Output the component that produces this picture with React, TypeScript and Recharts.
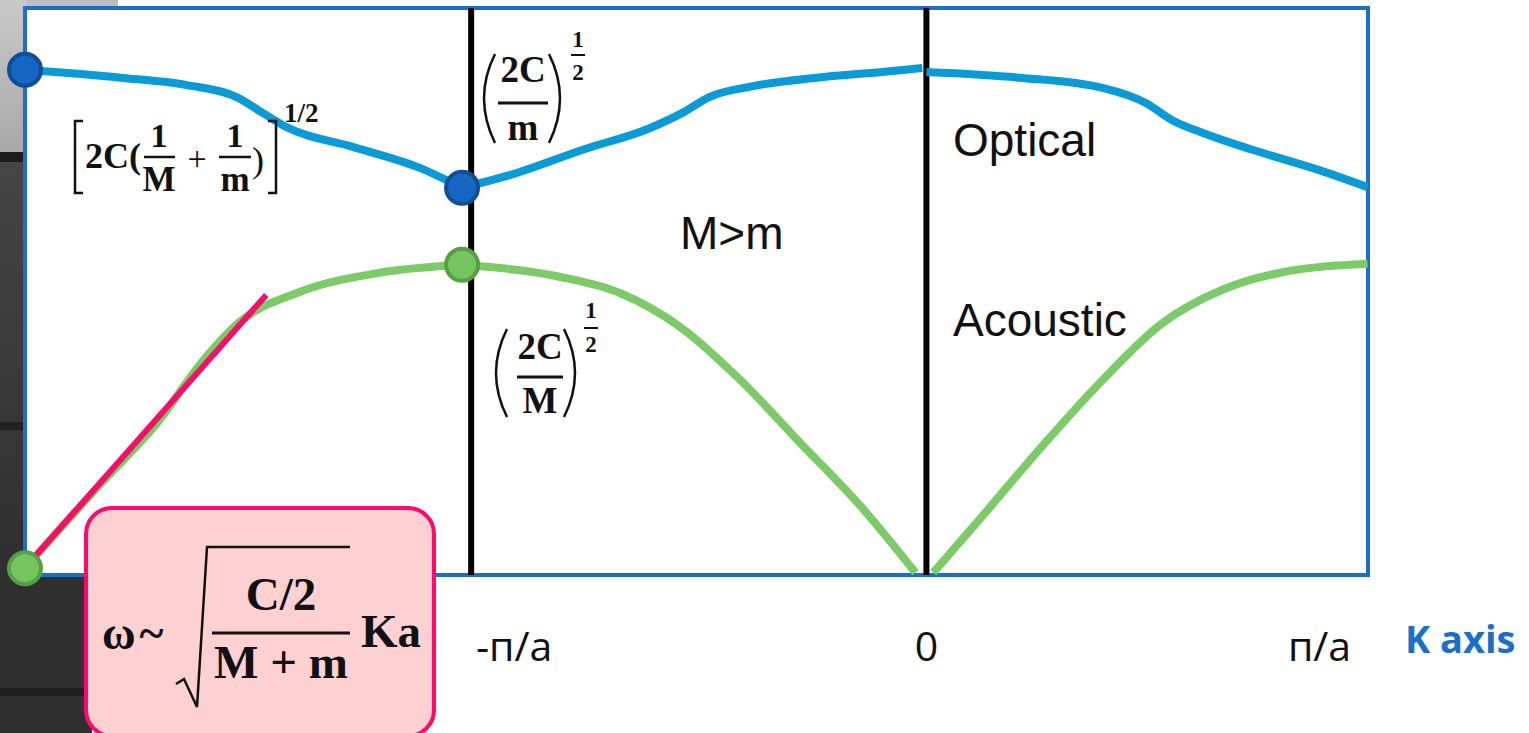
import { ComposedChart, Line, XAxis, YAxis, ReferenceLine, ReferenceArea, ReferenceDot } from "recharts";

// k in units of π/a, w in arbitrary frequency units (0 = bottom of frame, 10 = top)
const opticalLeft = [
  { k: -1.98, w: 8.91 },
  { k: -1.77, w: 8.77 },
  { k: -1.625, w: 8.64 },
  { k: -1.515, w: 8.43 },
  { k: -1.458, w: 8.15 },
  { k: -1.406, w: 7.9 },
  { k: -1.26, w: 7.55 },
  { k: -1.113, w: 7.18 },
  { k: -1.02, w: 6.83 },
];

const opticalMiddle = [
  { k: -1.02, w: 6.83 },
  { k: -0.9, w: 7.09 },
  { k: -0.755, w: 7.5 },
  { k: -0.608, w: 7.88 },
  { k: -0.536, w: 8.15 },
  { k: -0.477, w: 8.43 },
  { k: -0.389, w: 8.61 },
  { k: -0.242, w: 8.77 },
  { k: -0.097, w: 8.87 },
  { k: -0.009, w: 8.94 },
];

const opticalRight = [
  { k: 0.0, w: 8.87 },
  { k: 0.204, w: 8.77 },
  { k: 0.387, w: 8.59 },
  { k: 0.483, w: 8.32 },
  { k: 0.54, w: 8.02 },
  { k: 0.606, w: 7.8 },
  { k: 0.716, w: 7.5 },
  { k: 0.863, w: 7.14 },
  { k: 0.969, w: 6.84 },
];

const acousticLeft = [
  { k: -1.98, w: 0.12 },
  { k: -1.816, w: 1.59 },
  { k: -1.685, w: 2.73 },
  { k: -1.597, w: 3.7 },
  { k: -1.509, w: 4.46 },
  { k: -1.377, w: 4.99 },
  { k: -1.201, w: 5.33 },
  { k: -1.02, w: 5.47 },
];

const acousticMiddle = [
  { k: -1.02, w: 5.47 },
  { k: -0.806, w: 5.26 },
  { k: -0.672, w: 4.97 },
  { k: -0.54, w: 4.37 },
  { k: -0.409, w: 3.44 },
  { k: -0.277, w: 2.33 },
  { k: -0.143, w: 1.2 },
  { k: -0.024, w: 0.04 },
];

const acousticRight = [
  { k: 0.015, w: 0.04 },
  { k: 0.121, w: 1.02 },
  { k: 0.253, w: 2.26 },
  { k: 0.387, w: 3.44 },
  { k: 0.518, w: 4.44 },
  { k: 0.65, w: 5.03 },
  { k: 0.782, w: 5.34 },
  { k: 0.969, w: 5.49 },
];

const opticalDots = [
  { k: -1.98, w: 8.91 },
  { k: -1.02, w: 6.83 },
];
const acousticDots = [
  { k: -1.98, w: 0.12 },
  { k: -1.02, w: 5.47 },
];

// small-k linear approximation (pink tangent)
const tangent = [
  { k: -1.974, w: 0.18 },
  { k: -1.45, w: 4.94 },
];

const zoneEdges = [-1, 0];
const kTicks = [-1, 0, 0.969];
const kTickLabels = ["-п/a", "0", "п/a"];
const kTickShift = [43, 0, -48];

const OPTICAL = "#0a9bd7";
const ACOUSTIC = "#7cca68";
const FRAME = "#1a6fc8";
const serif = "'Liberation Serif', 'DejaVu Serif', serif";
const sans = "'Liberation Sans', Arial, sans-serif";

function KTick(props: any) {
  const { x, y, payload } = props;
  if (x === undefined || y === undefined || !payload) return <g />;
  const i = kTicks.indexOf(payload.value);
  return (
    <text
      x={x + (kTickShift[i] ?? 0)}
      y={y + 78}
      textAnchor="middle"
      fontFamily="'Open Sans', sans-serif"
      fontSize={41}
      fill="#111"
    >
      {kTickLabels[i] ?? ""}
    </text>
  );
}

function Background() {
  return (
    <svg width={1529} height={733} style={{ position: "absolute", left: 0, top: 0 }}>
      <defs>
        <linearGradient id="lightStrip" x1="0" y1="0" x2="0" y2="1">
          <stop offset="0" stopColor="#c9c9c9" />
          <stop offset="1" stopColor="#a8a8a8" />
        </linearGradient>
        <linearGradient id="darkStrip" x1="0" y1="0" x2="0" y2="1">
          <stop offset="0" stopColor="#454545" />
          <stop offset="1" stopColor="#2f2f2f" />
        </linearGradient>
      </defs>
      <rect x={0} y={0} width={118} height={9} fill="#bdbdbd" />
      <rect x={0} y={0} width={26} height={152} fill="url(#lightStrip)" />
      <rect x={0} y={152} width={26} height={10} fill="#1c1c1c" />
      <rect x={0} y={162} width={26} height={413} fill="url(#darkStrip)" />
      <rect x={0} y={422} width={26} height={8} fill="#222" />
      <rect x={0} y={575} width={92} height={158} fill="#303030" />
      <rect x={0} y={688} width={92} height={8} fill="#1e1e1e" />
    </svg>
  );
}

function Annotations() {
  return (
    <svg
      width={1529}
      height={733}
      style={{ position: "absolute", left: 0, top: 0, pointerEvents: "none" }}
    >
      {/* [2C(1/M + 1/m)]^1/2 */}
      <g fontFamily={serif} fontWeight="bold" fill="#111">
        <path d="M83 121 L75 121 L75 193 L83 193" stroke="#111" strokeWidth={2.5} fill="none" />
        <path d="M268 121 L276 121 L276 193 L268 193" stroke="#111" strokeWidth={2.5} fill="none" />
        <text x={85} y={168} fontSize={36}>2C(</text>
        <text x={159} y={147} fontSize={34} textAnchor="middle">1</text>
        <line x1={144} x2={175} y1={157} y2={157} stroke="#111" strokeWidth={2.5} />
        <text x={159} y={191} fontSize={35} textAnchor="middle">M</text>
        <text x={197} y={170} fontSize={34} textAnchor="middle" fontWeight="normal">+</text>
        <text x={235} y={147} fontSize={34} textAnchor="middle">1</text>
        <line x1={219} x2={251} y1={157} y2={157} stroke="#111" strokeWidth={2.5} />
        <text x={235} y={191} fontSize={35} textAnchor="middle">m</text>
        <text x={252} y={172} fontSize={36} fontWeight="normal">)</text>
        <text x={284} y={122} fontSize={27}>1/2</text>
      </g>

      {/* (2C/m)^(1/2) */}
      <g fontFamily={serif} fontWeight="bold" fill="#111">
        <path d="M495 54 Q473 98 495 143" stroke="#111" strokeWidth={2.5} fill="none" />
        <path d="M549 54 Q571 98 549 143" stroke="#111" strokeWidth={2.5} fill="none" />
        <text x={523} y={82} fontSize={37} textAnchor="middle">2C</text>
        <line x1={498} x2={548} y1={103} y2={103} stroke="#111" strokeWidth={3} />
        <text x={523} y={140} fontSize={37} textAnchor="middle">m</text>
        <text x={578} y={47} fontSize={23} textAnchor="middle">1</text>
        <line x1={571} x2={585} y1={55} y2={55} stroke="#111" strokeWidth={2} />
        <text x={578} y={80} fontSize={23} textAnchor="middle">2</text>
      </g>

      {/* (2C/M)^(1/2) */}
      <g fontFamily={serif} fontWeight="bold" fill="#111">
        <path d="M507 329 Q485 373 507 417" stroke="#111" strokeWidth={2.5} fill="none" />
        <path d="M564 329 Q586 373 564 417" stroke="#111" strokeWidth={2.5} fill="none" />
        <text x={540} y={359} fontSize={37} textAnchor="middle">2C</text>
        <line x1={517} x2={563} y1={377} y2={377} stroke="#111" strokeWidth={3} />
        <text x={540} y={413} fontSize={37} textAnchor="middle">M</text>
        <text x={591} y={318} fontSize={23} textAnchor="middle">1</text>
        <line x1={584} x2={598} y1={328} y2={328} stroke="#111" strokeWidth={2} />
        <text x={591} y={352} fontSize={23} textAnchor="middle">2</text>
      </g>

      <g fontFamily={sans} fontSize={46} fill="#111">
        <text x={953} y={156}>Optical</text>
        <text x={680} y={249}>M&gt;m</text>
        <text x={953} y={336}>Acoustic</text>
      </g>

      <text
        x={1405}
        y={653}
        fontFamily="'Open Sans', sans-serif"
        fontWeight="bold"
        fontSize={38}
        fill={FRAME}
      >
        K axis
      </text>

      {/* ω ~ sqrt((C/2)/(M+m)) Ka */}
      <rect x={86} y={508} width={348} height={228} rx={26} fill="#fdd0d1" stroke="#ff0a6a" strokeWidth={4} />
      <g fontFamily={serif} fontWeight="bold" fill="#111">
        <text x={102} y={649} fontSize={46} letterSpacing={4}>ω~</text>
        <polyline
          points="176,684 184,679 197,707 207,547 350,547"
          stroke="#111"
          strokeWidth={2.5}
          fill="none"
        />
        <text x={281} y={610} fontSize={47} textAnchor="middle">C/2</text>
        <line x1={212} x2={350} y1={633} y2={633} stroke="#111" strokeWidth={3} />
        <text x={281} y={678} fontSize={47} textAnchor="middle">M + m</text>
        <text x={361} y={647} fontSize={47}>Ka</text>
      </g>
    </svg>
  );
}

export default function App() {
  return (
    <div
      style={{
        position: "absolute",
        left: 0,
        top: 0,
        width: 1529,
        height: 733,
        overflow: "hidden",
        background: "#fff",
      }}
    >
      <Background />
      <div style={{ position: "absolute", left: 0, top: 0 }}>
        <ComposedChart
          width={1529}
          height={733}
          margin={{ top: 8, right: 161, bottom: 98, left: 25 }}
        >
          <XAxis
            type="number"
            dataKey="k"
            domain={[-1.98, 0.97]}
            allowDataOverflow
            ticks={kTicks}
            axisLine={false}
            tickLine={false}
            height={60}
            tick={KTick}
          />
          <YAxis type="number" dataKey="w" domain={[0, 10]} allowDataOverflow hide width={0} />
          <ReferenceArea
            x1={-1.98}
            x2={0.97}
            y1={0}
            y2={10}
            fill="#fff"
            fillOpacity={0}
            stroke={FRAME}
            strokeWidth={4}
            ifOverflow="visible"
          />
          {zoneEdges.map((k) => (
            <ReferenceLine key={k} x={k} stroke="#000" strokeWidth={6} ifOverflow="visible" />
          ))}
          <Line data={opticalLeft} dataKey="w" type="monotone" stroke={OPTICAL} strokeWidth={8} dot={false} isAnimationActive={false} />
          <Line data={opticalMiddle} dataKey="w" type="monotone" stroke={OPTICAL} strokeWidth={8} dot={false} isAnimationActive={false} />
          <Line data={opticalRight} dataKey="w" type="monotone" stroke={OPTICAL} strokeWidth={8} dot={false} isAnimationActive={false} />
          <Line data={acousticLeft} dataKey="w" type="monotone" stroke={ACOUSTIC} strokeWidth={8} dot={false} isAnimationActive={false} />
          <Line data={acousticMiddle} dataKey="w" type="monotone" stroke={ACOUSTIC} strokeWidth={8} dot={false} isAnimationActive={false} />
          <Line data={acousticRight} dataKey="w" type="monotone" stroke={ACOUSTIC} strokeWidth={8} dot={false} isAnimationActive={false} />
          {opticalDots.map((d, i) => (
            <ReferenceDot key={"o" + i} x={d.k} y={d.w} r={16} fill="#1666c4" stroke="#0e4f98" strokeWidth={4} ifOverflow="visible" />
          ))}
          {acousticDots.map((d, i) => (
            <ReferenceDot key={"a" + i} x={d.k} y={d.w} r={16} fill="#74c460" stroke="#55a044" strokeWidth={4} ifOverflow="visible" />
          ))}
          <ReferenceLine
            segment={[
              { x: tangent[0].k, y: tangent[0].w },
              { x: tangent[1].k, y: tangent[1].w },
            ]}
            stroke="#f2106a"
            strokeWidth={6}
            ifOverflow="visible"
          />
        </ComposedChart>
      </div>
      <Annotations />
    </div>
  );
}
